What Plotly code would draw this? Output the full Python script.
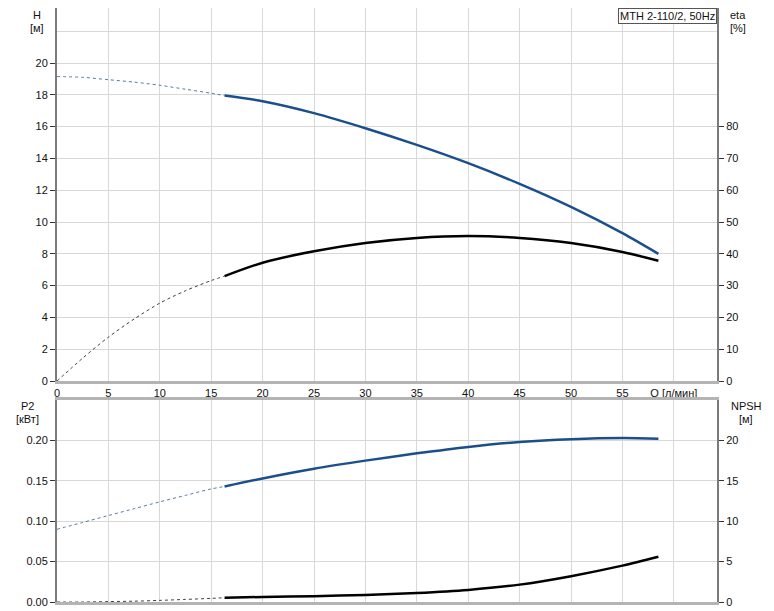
import plotly.graph_objects as go

# ---- data ----
q_ext = [0, 2.5, 5, 7.5, 10, 12.5, 15, 16.3]
h_ext = [19.15, 19.1, 18.95, 18.8, 18.6, 18.35, 18.1, 17.95]
eta_ext = [0, 7.2, 13.8, 19.5, 24.5, 28.4, 31.6, 33.0]
p2_ext = [0.090, 0.0985, 0.107, 0.1155, 0.124, 0.132, 0.140, 0.143]
npsh_ext = [0.0, 0.0, 0.05, 0.1, 0.2, 0.32, 0.45, 0.53]

q = [16.3, 20, 25, 30, 35, 40, 45, 50, 55, 58.5]
h = [17.95, 17.6, 16.85, 15.9, 14.85, 13.7, 12.4, 10.95, 9.3, 8.0]
eta = [33.0, 37.2, 40.8, 43.4, 45.0, 45.6, 45.0, 43.4, 40.6, 37.8]
p2 = [0.143, 0.153, 0.165, 0.175, 0.184, 0.192, 0.198, 0.2015, 0.203, 0.2022]
npsh = [0.53, 0.62, 0.72, 0.88, 1.12, 1.5, 2.15, 3.2, 4.5, 5.6]

x_ticks = [0, 5, 10, 15, 20, 25, 30, 35, 40, 45, 50, 55, 60]
x_labels = ["0", "5", "10", "15", "20", "25", "30", "35", "40", "45", "50", "55", "Q [л/мин]"]
h_ticks = [0, 2, 4, 6, 8, 10, 12, 14, 16, 18, 20]
eta_ticks = [0, 10, 20, 30, 40, 50, 60, 70, 80]
p2_ticks = [0.0, 0.05, 0.10, 0.15, 0.20]
npsh_ticks = [0, 5, 10, 15, 20]
title_text = "MTH 2-110/2, 50Hz"

BLUE = "#1b4f8c"
BLACK = "#000000"
FONT = "Liberation Sans, Arial, sans-serif"

fig = go.Figure()

def add(x, y, color, xa, ya, dotted):
    fig.add_trace(go.Scatter(
        x=x, y=y, mode="lines", xaxis=xa, yaxis=ya, showlegend=False,
        line=dict(color=color, width=1 if dotted else 2.5,
                  dash="dot" if dotted else "solid", shape="spline", smoothing=0.8),
        opacity=0.75 if dotted else 1.0,
        hoverinfo="skip"))

add(q_ext, h_ext, BLUE, "x", "y", True)
add(q, h, BLUE, "x", "y", False)
add(q_ext, eta_ext, BLACK, "x", "y2", True)
add(q, eta, BLACK, "x", "y2", False)
add(q_ext, p2_ext, BLUE, "x2", "y3", True)
add(q, p2, BLUE, "x2", "y3", False)
add(q_ext, npsh_ext, BLACK, "x2", "y4", True)
add(q, npsh, BLACK, "x2", "y4", False)

GRID = "#d8d8d8"
AX_V = "#7a7a7a"
AX_H = "#b4b4b4"
tickfont = dict(family=FONT, size=11, color="#111111")

xcommon = dict(range=[0, 64.2], tickvals=x_ticks, showgrid=True, gridcolor=GRID,
               gridwidth=1, zeroline=False, showline=True, linecolor=AX_H,
               linewidth=3, ticks="", tickfont=tickfont,
               fixedrange=True, automargin=False)

# The page body has an 8px margin, so the figure is sized to the visible area.
fig.update_layout(
    width=766, height=603,
    margin=dict(l=49, r=57, t=0, b=9, autoexpand=False),
    paper_bgcolor="white", plot_bgcolor="white",
    font=dict(family=FONT, size=11, color="#111111"),
    xaxis=dict(domain=[0, 1], anchor="y", ticktext=x_labels, mirror=False, **xcommon),
    xaxis2=dict(domain=[0, 1], anchor="y3", showticklabels=False, mirror=True, **xcommon),
    yaxis=dict(domain=[0.372, 1.0], range=[0, 23.46], tickvals=h_ticks,
               showgrid=True, gridcolor=GRID, zeroline=False,
               showline=True, linecolor=AX_V, linewidth=2,
               ticks="outside", ticklen=5, tickcolor="#333", tickfont=tickfont,
               minor=dict(tickvals=[22], showgrid=True, gridcolor=GRID, ticks=""),
               anchor="x", automargin=False),
    yaxis2=dict(overlaying="y", side="right", range=[0, 117.3], tickvals=eta_ticks,
                showgrid=False, zeroline=False, showline=True, linecolor=AX_V,
                linewidth=2, ticks="outside", ticklen=5, tickcolor="#333",
                tickfont=tickfont, anchor="x", automargin=False),
    yaxis3=dict(domain=[0, 0.340], range=[0, 0.25], tickvals=p2_ticks,
                tickformat=".2f", showgrid=True, gridcolor=GRID, zeroline=False,
                showline=True, linecolor=AX_V, linewidth=2,
                ticks="outside", ticklen=5, tickcolor="#333", tickfont=tickfont,
                anchor="x2", automargin=False),
    yaxis4=dict(overlaying="y3", side="right", range=[0, 25], tickvals=npsh_ticks,
                showgrid=False, zeroline=False, showline=True, linecolor=AX_V,
                linewidth=2, ticks="outside", ticklen=5, tickcolor="#333",
                tickfont=tickfont, anchor="x2", automargin=False),
)

def label(text, x, y):
    fig.add_annotation(text=text, x=x, y=y, xref="paper", yref="paper",
                       xanchor="center", yanchor="middle", showarrow=False,
                       font=dict(family=FONT, size=11, color="#111111"))

# page coords -> paper coords (page offset 8px, plot area 660x594)
def px(xp):
    return (xp - 57) / 660.0

def py(yp):
    return (602 - yp) / 594.0

label("H", px(37), py(15))
label("[м]", px(37), py(28))
label("eta", px(738), py(15))
label("[%]", px(738), py(28))
label("P2", px(27), py(406))
label("[кВт]", px(27), py(419))
label("NPSH", px(746), py(406))
label("[м]", px(746), py(419))

fig.add_annotation(text=title_text, x=1, y=1, xref="paper", yref="paper",
                   xanchor="right", yanchor="top", showarrow=False,
                   bgcolor="white", bordercolor="#555", borderwidth=1, borderpad=1,
                   font=dict(family=FONT, size=11, color="#111111"))

fig.write_html("out.html")
